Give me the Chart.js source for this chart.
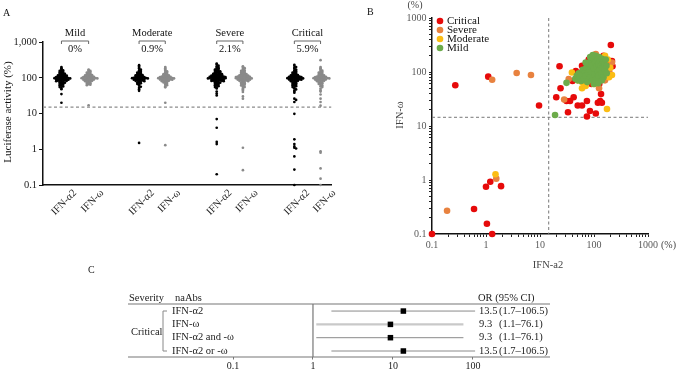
<!DOCTYPE html>
<html>
<head>
<meta charset="utf-8">
<script src="https://cdn.jsdelivr.net/npm/chart.js@4.4.1/dist/chart.umd.min.js"></script>
<style>
    html, body { margin: 0; padding: 0; background: #fff; }
    #wrap { position: relative; width: 676px; height: 370px; overflow: hidden; }
    canvas { position: absolute; }
</style>
</head>
<body>
<div id="wrap">
    <canvas id="chartA" width="345" height="232" style="left:0;top:0"></canvas>
    <canvas id="chartB" width="336" height="280" style="left:340px;top:0"></canvas>
    <canvas id="chartC" width="676" height="108" style="left:0;top:262px"></canvas>
</div>
<script>
Chart.defaults.font.family = '"Liberation Serif", "Times New Roman", serif';
Chart.defaults.color = "#222";
Chart.defaults.animation = false;

// ---------- panel A : luciferase activity by severity ----------
const groups = ["Mild", "Moderate", "Severe", "Critical"];
const groupPercent = ["0%", "0.9%", "2.1%", "5.9%"];
const antigenLabels = ["IFN-α2", "IFN-ω"];
const activityTicks = [0.1, 1, 10, 100, 1000];
const activityTickLabels = ["0.1", "1", "10", "100", "1,000"];
const cutoff = 15;

const mildA2 = [200, 185, 175, 165, 160, 155, 150, 145, 140, 138, 135, 130, 128, 125, 122, 120, 118, 116, 115, 113, 112, 110, 108, 107, 106, 105, 104, 103, 102, 101, 100, 100, 99, 98, 97, 96, 95, 94, 93, 92, 91, 90, 89, 88, 87, 86, 85, 84, 83, 82, 80, 78, 76, 75, 73, 71, 70, 68, 66, 64, 62, 60, 57, 55, 52, 48, 35, 20];
const mildW = [170, 160, 155, 150, 145, 140, 135, 130, 127, 125, 122, 120, 118, 116, 114, 112, 110, 109, 108, 106, 105, 104, 103, 102, 101, 100, 100, 99, 98, 97, 96, 95, 94, 93, 92, 90, 89, 88, 86, 85, 83, 82, 80, 78, 76, 74, 72, 70, 68, 66, 64, 62, 17];
const moderateA2 = [225, 205, 190, 180, 170, 160, 155, 150, 145, 140, 136, 132, 128, 125, 122, 120, 118, 116, 114, 112, 110, 108, 106, 105, 104, 103, 102, 101, 100, 100, 99, 98, 97, 96, 95, 94, 93, 92, 91, 90, 88, 87, 86, 85, 84, 82, 80, 78, 76, 74, 72, 70, 67, 64, 60, 56, 52, 48, 43, 1.5];
const moderateW = [200, 185, 170, 160, 152, 145, 140, 135, 130, 126, 122, 120, 118, 116, 114, 112, 110, 108, 107, 106, 105, 104, 103, 102, 101, 100, 100, 99, 98, 97, 96, 95, 94, 93, 92, 91, 90, 89, 88, 86, 85, 84, 82, 80, 78, 76, 74, 71, 68, 65, 62, 58, 54, 20, 1.3];
const severeA2 = [250, 235, 220, 210, 200, 190, 185, 180, 175, 170, 165, 160, 156, 152, 148, 145, 142, 140, 138, 135, 133, 130, 128, 126, 124, 122, 120, 118, 117, 116, 115, 114, 113, 112, 111, 110, 109, 108, 107, 106, 105, 104, 103, 102, 101, 100, 100, 100, 99, 98, 97, 96, 95, 94, 93, 92, 91, 90, 89, 88, 87, 86, 85, 84, 83, 82, 81, 80, 78, 76, 75, 73, 71, 70, 68, 66, 64, 62, 60, 58, 55, 52, 50, 41, 36, 32, 7, 4, 1.6, 1.4, 0.2];
const severeW = [210, 195, 185, 175, 165, 160, 155, 150, 145, 140, 136, 133, 130, 127, 125, 122, 120, 118, 116, 115, 114, 112, 111, 110, 109, 108, 107, 106, 105, 104, 103, 102, 101, 100, 100, 99, 98, 97, 96, 95, 94, 93, 92, 91, 90, 89, 88, 87, 86, 85, 84, 82, 80, 78, 76, 74, 72, 70, 68, 66, 64, 61, 58, 55, 52, 48, 44, 40, 30, 26, 1.1, 0.26];
const criticalA2 = [230, 215, 200, 190, 180, 170, 162, 155, 150, 145, 140, 136, 132, 128, 125, 122, 120, 118, 116, 114, 112, 110, 109, 108, 107, 106, 105, 104, 103, 102, 101, 100, 100, 99, 98, 97, 96, 95, 94, 93, 92, 91, 90, 89, 88, 86, 85, 84, 82, 80, 78, 76, 74, 72, 70, 68, 66, 64, 62, 60, 58, 55, 52, 50, 47, 44, 41, 38, 26, 24, 21, 9.8, 1.9, 1.4, 1.2, 1.1, 1.05, 0.63, 0.27, 0.1];
const criticalW = [310, 200, 185, 175, 165, 158, 150, 145, 140, 135, 130, 127, 124, 121, 118, 116, 114, 112, 110, 108, 107, 106, 105, 104, 103, 102, 101, 100, 100, 99, 98, 97, 96, 95, 94, 93, 92, 90, 89, 88, 86, 85, 84, 82, 80, 78, 76, 74, 72, 70, 67, 64, 61, 58, 55, 50, 45, 41, 34, 26, 21, 16.5, 0.88, 0.8, 0.29, 0.15, 0.1];

const groupSeries = [[mildA2, mildW], [moderateA2, moderateW], [severeA2, severeW], [criticalA2, criticalW]];
const slotX = [19, 47, 99, 126, 179, 206, 259, 286]; // category slots on the x axis

// spread equal-ish values sideways (beeswarm)
function swarm(values, center) {
    const rows = {};
    return values.slice().sort((a, b) => b - a).map((v) => {
        const bin = Math.round(Math.log10(v) / 0.04);
        const k = (rows[bin] = (rows[bin] ?? -1) + 1);
        const side = k % 2 ? 1 : -1;
        return { x: center + side * Math.ceil(k / 2) * 1.8, y: v };
    });
}

const datasetsA = [];
groupSeries.forEach((pair, g) => {
    pair.forEach((vals, m) => {
        datasetsA.push({
            data: swarm(vals, slotX[g * 2 + m]),
            backgroundColor: m === 0 ? "#000" : "#8a8a8a",
            borderWidth: 0,
            pointRadius: 1.35,
            clip: false,
        });
    });
});

const panelA = {
    id: "panelA",
    beforeDatasetsDraw(chart) {
        const { ctx, chartArea, scales: { y } } = chart;
        const py = y.getPixelForValue(cutoff);
        ctx.save();
        ctx.strokeStyle = "#8c8c8c";
        ctx.lineWidth = 1.2;
        ctx.setLineDash([3, 2.5]);
        ctx.beginPath();
        ctx.moveTo(chartArea.left, py);
        ctx.lineTo(chartArea.right, py);
        ctx.stroke();
        ctx.restore();
    },
    afterDraw(chart) {
        const { ctx, scales: { x } } = chart;
        ctx.save();
        ctx.fillStyle = "#111";
        ctx.strokeStyle = "#666";
        ctx.lineWidth = 1;
        ctx.textBaseline = "middle";
        ctx.font = '10px "Liberation Serif"';
        ctx.textAlign = "left";
        ctx.fillText("A", 3, 13);
        ctx.font = '10.5px "Liberation Serif"';
        ctx.textAlign = "center";
        groups.forEach((g, i) => {
            const x0 = x.getPixelForValue(slotX[i * 2]);
            const x1 = x.getPixelForValue(slotX[i * 2 + 1]);
            const mid = (x0 + x1) / 2;
            ctx.fillText(g, mid, 33);
            ctx.beginPath();
            ctx.moveTo(x0, 44);
            ctx.lineTo(x0, 41);
            ctx.lineTo(x1, 41);
            ctx.lineTo(x1, 44);
            ctx.stroke();
            ctx.fillText(groupPercent[i], mid, 49);
        });
        ctx.translate(8, 112);
        ctx.rotate(-Math.PI / 2);
        ctx.font = '11px "Liberation Serif"';
        ctx.fillText("Luciferase activity (%)", 0, 0);
        ctx.restore();
    },
};

new Chart(document.getElementById("chartA"), {
    type: "scatter",
    data: { datasets: datasetsA },
    options: {
        responsive: false,
        devicePixelRatio: 1,
        layout: { padding: { left: 0, top: 42, right: 5, bottom: 0 } },
        plugins: { legend: { display: false }, tooltip: { enabled: false } },
        scales: {
            x: {
                type: "linear",
                min: 0,
                max: 297,
                afterBuildTicks: (s) => { s.ticks = slotX.map((p) => ({ value: p + 14 })); },
                afterFit: (s) => { s.height = 47; },
                ticks: {
                    autoSkip: false,
                    minRotation: 45,
                    maxRotation: 45,
                    padding: 2,
                    color: "#222",
                    font: { size: 10.5 },
                    callback: (v, i) => antigenLabels[i % 2],
                },
                grid: { display: true, drawOnChartArea: false, drawTicks: false },
                border: { display: true, color: "#111", width: 1.5 },
            },
            y: {
                type: "logarithmic",
                min: 0.1,
                max: 1000,
                afterBuildTicks: (s) => { s.ticks = activityTicks.map((v) => ({ value: v })); },
                afterFit: (s) => { s.width = 43; },
                ticks: {
                    autoSkip: false,
                    padding: 2,
                    color: "#222",
                    font: { size: 10.5 },
                    callback: (v, i) => activityTickLabels[i],
                },
                grid: { display: true, drawOnChartArea: false, drawTicks: true, tickLength: 4, color: "#111" },
                border: { display: true, color: "#111", width: 1.5 },
            },
        },
    },
    plugins: [panelA],
});

// ---------- panel B : IFN-a2 vs IFN-ω per patient ----------
const severityNames = ["Critical", "Severe", "Moderate", "Mild"];
const severityColors = ["#e60a0a", "#e8823f", "#fbbd14", "#6cab4a"];
const logTicksB = [0.1, 1, 10, 100, 1000];
const logTickLabelsB = ["0.1", "1", "10", "100", "1000"];
const decadeSteps = [1, 2, 3, 4, 5, 6, 7, 8, 9];
const thresholdB = 14.5;

const criticalA2B = [0.1, 0.6, 1.04, 1.3, 1.0, 1.2, 1.9, 0.27, 1.1, 9.6, 23, 20, 24, 33, 31, 36, 42, 50, 60, 74, 74, 84, 108, 118, 135, 130, 140, 205, 215, 220, 46, 57, 40, 80, 150, 180, 170, 120, 100, 90, 200, 160, 130, 70, 110, 95, 140, 190, 125, 150, 110, 60];
const criticalWB = [0.1, 0.29, 0.155, 0.1, 0.75, 0.93, 0.77, 57, 82, 24, 128, 34, 50, 18, 29, 29, 34, 24, 24, 29, 15, 19, 17, 27, 39, 29, 27, 316, 160, 128, 104, 97, 68, 170, 200, 150, 110, 80, 70, 60, 140, 180, 170, 90, 130, 110, 100, 100, 60, 75, 190, 130];
const severeA2B = [0.19, 1.55, 1.3, 3.7, 6.8, 34, 28, 124, 108, 215, 100, 150, 170, 60, 80, 130, 90, 190, 120, 200, 70, 50, 110, 160];
const severeWB = [0.27, 1.06, 72, 96, 88, 74, 31, 50, 215, 150, 200, 180, 130, 90, 70, 90, 150, 110, 160, 90, 110, 80, 60, 70];
const moderateA2B = [1.5, 39, 174, 60, 215, 70, 100, 180, 200, 160, 50, 120, 90, 140, 190, 80, 130, 60];
const moderateWB = [1.28, 98, 20.7, 50, 88, 55, 60, 170, 120, 200, 70, 180, 130, 150, 80, 100, 75, 65];
const mildA2B = [19, 31, 45, 48, 50, 52, 55, 58, 60, 62, 65, 68, 70, 72, 75, 78, 80, 82, 85, 88, 90, 92, 95, 98, 100, 102, 105, 108, 110, 112, 115, 118, 120, 122, 125, 128, 130, 135, 138, 140, 145, 148, 150, 155, 160, 165, 170, 172, 100, 120, 140, 85, 70, 95];
const mildWB = [16, 63, 75, 85, 70, 95, 80, 68, 90, 110, 75, 100, 85, 120, 65, 95, 140, 110, 80, 160, 100, 130, 70, 180, 115, 90, 150, 200, 75, 125, 170, 100, 140, 85, 190, 110, 160, 130, 95, 175, 120, 150, 80, 140, 110, 170, 130, 95, 60, 62, 70, 190, 150, 205];

const pairsB = [[criticalA2B, criticalWB], [severeA2B, severeWB], [moderateA2B, moderateWB], [mildA2B, mildWB]];

const datasetsB = pairsB.map(([xs, ys], i) => ({
    label: severityNames[i],
    data: xs.map((x, j) => ({ x, y: ys[j] })),
    backgroundColor: severityColors[i],
    borderWidth: 0,
    pointRadius: 3.3,
    order: 3 - i,
    clip: false,
}));

const fullLogTicks = () => {
    const out = [];
    logTicksB.slice(0, -1).forEach((d) => decadeSteps.forEach((s) => out.push({ value: d * s })));
    out.push({ value: logTicksB[logTicksB.length - 1] });
    return out;
};
const majorLabel = (v) => {
    const i = logTicksB.findIndex((t) => Math.abs(t - v) < 1e-9 * t);
    return i >= 0 ? logTickLabelsB[i] : "";
};

const panelB = {
    id: "panelB",
    beforeDatasetsDraw(chart) {
        const { ctx, chartArea, scales: { x, y } } = chart;
        const px = x.getPixelForValue(thresholdB);
        const py = y.getPixelForValue(thresholdB);
        ctx.save();
        ctx.strokeStyle = "#777";
        ctx.lineWidth = 1;
        ctx.setLineDash([3, 2.5]);
        ctx.beginPath();
        ctx.moveTo(px, chartArea.top);
        ctx.lineTo(px, chartArea.bottom);
        ctx.moveTo(chartArea.left, py);
        ctx.lineTo(chartArea.right, py);
        ctx.stroke();
        ctx.restore();
    },
    afterDraw(chart) {
        const { ctx } = chart;
        ctx.save();
        ctx.textBaseline = "middle";
        ctx.fillStyle = "#111";
        ctx.font = '10px "Liberation Serif"';
        ctx.textAlign = "left";
        ctx.fillText("B", 27, 12);
        ctx.fillStyle = "#444";
        ctx.textAlign = "center";
        ctx.fillText("(%)", 75, 5);
        ctx.textAlign = "left";
        ctx.fillText("(%)", 321, 245);
        ctx.textAlign = "center";
        ctx.font = '10.5px "Liberation Serif"';
        ctx.fillText("IFN-a2", 208, 265);
        // legend
        ctx.font = '11px "Liberation Serif"';
        ctx.textAlign = "left";
        severityNames.forEach((n, i) => {
            const ly = 21 + i * 9;
            ctx.fillStyle = severityColors[i];
            ctx.beginPath();
            ctx.arc(100, ly, 3.3, 0, Math.PI * 2);
            ctx.fill();
            ctx.fillStyle = "#111";
            ctx.fillText(n, 107, ly + 0.5);
        });
        ctx.translate(60, 115);
        ctx.rotate(-Math.PI / 2);
        ctx.textAlign = "center";
        ctx.fillStyle = "#444";
        ctx.font = '10.5px "Liberation Serif"';
        ctx.fillText("IFN-ω", 0, 0);
        ctx.restore();
    },
};

const logAxisB = (size) => ({
    type: "logarithmic",
    min: 0.1,
    max: 1000,
    afterBuildTicks: (s) => { s.ticks = fullLogTicks(); },
    ticks: { autoSkip: false, maxRotation: 0, padding: 2.5, color: "#595959", font: { size: 10 }, callback: majorLabel },
    grid: { display: true, drawOnChartArea: false, drawTicks: true, tickLength: 3, color: "#222" },
    border: { display: true, color: "#111", width: 1.5 },
    afterFit: size,
});

new Chart(document.getElementById("chartB"), {
    type: "scatter",
    data: { datasets: datasetsB },
    options: {
        responsive: false,
        devicePixelRatio: 1,
        layout: { padding: { left: 0, top: 18, right: 28, bottom: 0 } },
        plugins: { legend: { display: false }, tooltip: { enabled: false } },
        scales: {
            x: logAxisB((s) => { s.height = 46; }),
            y: logAxisB((s) => { s.width = 92; }),
        },
    },
    plugins: [panelB],
});

// ---------- panel C : odds ratios ----------
const forestRows = ["IFN-α2", "IFN-ω", "IFN-α2 and -ω", "IFN-α2 or -ω"];
const oddsRatio = [13.5, 9.3, 9.3, 13.5];
const ciLow = [1.7, 1.1, 1.1, 1.7];
const ciHigh = [106.5, 76.1, 76.1, 106.5];
const orTicks = [0.1, 1, 10, 100];
const orTickLabels = ["0.1", "1", "10", "100"];

const datasetsC = [
    {
        data: oddsRatio.map((v, i) => ({ x: v, y: i })),
        pointStyle: "rect",
        pointRadius: 3.9,
        backgroundColor: "#000",
        borderWidth: 0,
        order: 0,
    },
    ...forestRows.map((r, i) => ({
        data: [{ x: ciLow[i], y: i }, { x: ciHigh[i], y: i }],
        showLine: true,
        pointRadius: 0,
        borderColor: i === 1 ? "#c9c9c9" : "#8a8a8a",
        borderWidth: i === 1 ? 2.2 : 1,
        order: 1,
        clip: false,
    })),
];

const panelC = {
    id: "panelC",
    beforeDatasetsDraw(chart) {
        const { ctx, chartArea, scales: { x } } = chart;
        const p1 = x.getPixelForValue(1);
        ctx.save();
        ctx.strokeStyle = "#777";
        ctx.lineWidth = 1.2;
        ctx.beginPath();
        ctx.moveTo(128, chartArea.top);
        ctx.lineTo(550, chartArea.top);
        ctx.moveTo(128, chartArea.bottom);
        ctx.lineTo(550, chartArea.bottom);
        ctx.moveTo(p1, chartArea.top);
        ctx.lineTo(p1, chartArea.bottom);
        ctx.stroke();
        // bracket
        ctx.lineWidth = 1;
        ctx.strokeStyle = "#888";
        ctx.beginPath();
        ctx.moveTo(167, 49);
        ctx.lineTo(163, 49);
        ctx.lineTo(163, 89);
        ctx.lineTo(167, 89);
        ctx.stroke();
        ctx.restore();
    },
    afterDraw(chart) {
        const { ctx, scales: { y } } = chart;
        ctx.save();
        ctx.textBaseline = "middle";
        ctx.fillStyle = "#222";
        ctx.font = '10px "Liberation Serif"';
        ctx.fillText("C", 88, 8);
        ctx.font = '10.5px "Liberation Serif"';
        ctx.fillText("Severity", 129, 36);
        ctx.fillText("naAbs", 175, 36);
        ctx.fillText("OR (95% CI)", 478, 36);
        ctx.fillText("Critical", 131, 70);
        forestRows.forEach((r, i) => {
            const py = y.getPixelForValue(i);
            ctx.fillText(r, 172, py);
            ctx.fillText(String(oddsRatio[i]), 479, py);
            ctx.fillText("(" + ciLow[i] + "–" + ciHigh[i] + ")", 499, py);
        });
        ctx.restore();
    },
};

new Chart(document.getElementById("chartC"), {
    type: "scatter",
    data: { datasets: datasetsC },
    options: {
        responsive: false,
        devicePixelRatio: 1,
        layout: { padding: { left: 233, top: 42, right: 189, bottom: 0 } },
        plugins: { legend: { display: false }, tooltip: { enabled: false } },
        scales: {
            x: {
                type: "logarithmic",
                min: 0.1,
                max: 150,
                afterBuildTicks: (s) => { s.ticks = orTicks.map((v) => ({ value: v })); },
                afterFit: (s) => { s.height = 13; },
                ticks: { autoSkip: false, maxRotation: 0, padding: 1, color: "#222", font: { size: 10 }, callback: (v, i) => orTickLabels[i] },
                grid: { display: true, drawOnChartArea: false, drawTicks: true, tickLength: 2.5, color: "#777" },
                border: { display: false },
            },
            y: { type: "linear", reverse: true, min: -0.53, max: 3.45, display: false },
        },
    },
    plugins: [panelC],
});
</script>
</body>
</html>
